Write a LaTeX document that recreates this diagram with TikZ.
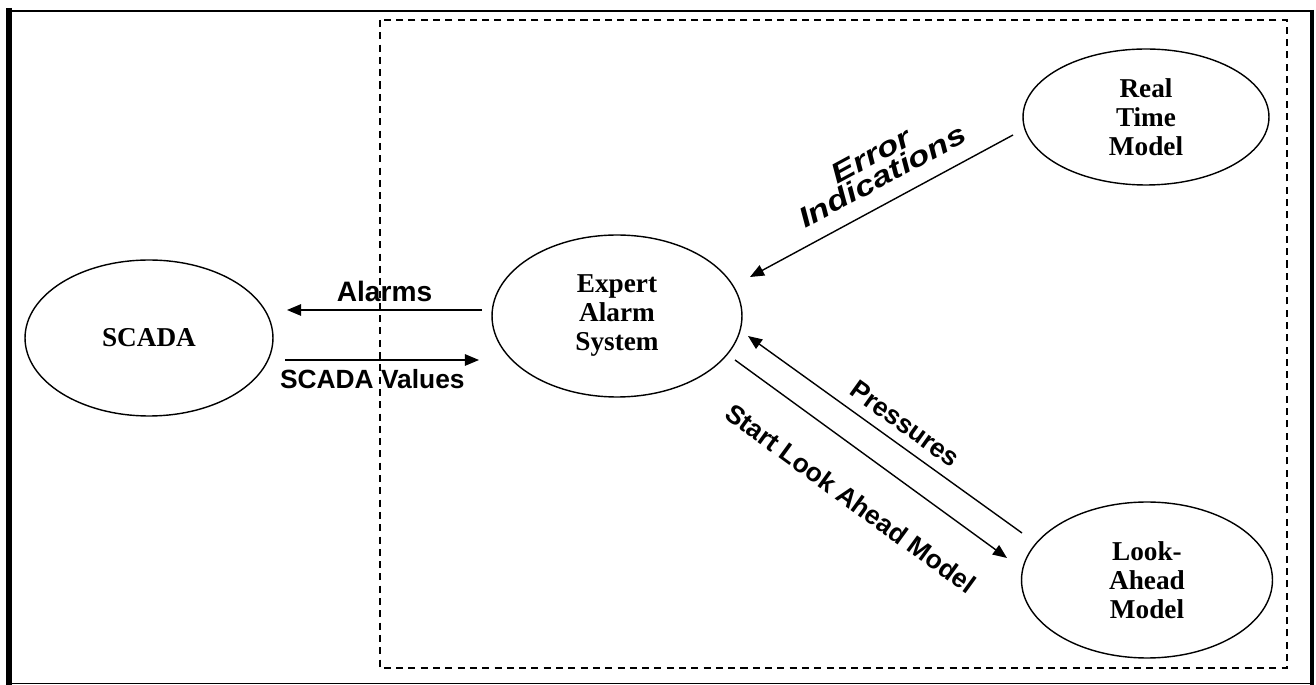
\documentclass[tikz,border=0pt]{standalone}
\usepackage{fontspec}
\usepackage{graphicx}
\setmainfont{Liberation Serif}
\setsansfont{Liberation Sans}
\usetikzlibrary{arrows.meta, calc, shapes.geometric}

\begin{document}
\begin{tikzpicture}[x=0.02cm, y=-0.02cm,
  proc/.style={draw, ellipse, line width=0.8pt, inner sep=0pt, align=center,
    font=\fontsize{15.5}{16.5}\selectfont\bfseries},
  flow/.style={line width=0.8pt, -{Triangle[length=8pt, width=6.5pt]}},
  flowlabel/.style={font=\fontsize{15}{16}\selectfont\sffamily\bfseries,
    align=center}]

  \useasboundingbox (0,0) rectangle (1316,685);

  % frame round the whole figure
  \draw[line width=3.4pt] (9,8) -- (9,685);
  \draw[line width=1.2pt] (6,11) -- (1314,11);
  \draw[line width=2.4pt] (1312,10) -- (1312,685);
  \draw[line width=0.6pt] (6,683.5) -- (1314,683.5);

  % boundary of the alarm system
  \draw[line width=0.8pt, dash pattern=on 4pt off 3pt] (380,20) rectangle (1287,668);

  \node[proc, minimum width=4.96cm, minimum height=3.12cm]
  (scada) at (149,338) {SCADA};

  \node[proc, minimum width=5cm, minimum height=3.24cm]
  (expert) at (617,316) {Expert\\Alarm\\System};

  \node[proc, minimum width=4.92cm, minimum height=2.72cm]
  (real) at (1146,117) {Real\\Time\\Model};

  \node[proc, minimum width=5.02cm, minimum height=3.12cm]
  (look) at (1147,580) {Look-\\Ahead\\Model};

  \draw[flow] ($(expert)+(-135,-6)$) -- node[flowlabel, above, inner sep=4pt,
  font=\fontsize{16}{16}\selectfont\sffamily\bfseries] {Alarms}
  ($(scada)+(138,-28)$);

  \draw[flow] ($(scada)+(136,22)$) -- node[flowlabel, below, pos=0.45,
  inner sep=5pt] {SCADA Values} ($(expert)+(-138,44)$);

  \draw[flow] ($(real)+(-133,18)$) -- node[flowlabel, above, sloped, pos=0.45,
  inner sep=4pt, font=\fontsize{16}{16}\selectfont\sffamily\bfseries\itshape]
  {\scalebox{1.25}[1]{\begin{tabular}{@{}c@{}}Error\\[-3pt]Indications\end{tabular}}}
  ($(expert)+(133,-39)$);

  \draw[flow] ($(look)+(-125,-47)$) -- node[flowlabel, above, sloped,
  pos=0.47, inner sep=6pt] {Pressures} ($(expert)+(131,20)$);

  \draw[flow] ($(expert)+(118,44)$) -- node[flowlabel, below, sloped, pos=0.52,
  inner sep=19pt] {Start Look Ahead Model} ($(look)+(-140,-22)$);
\end{tikzpicture}
\end{document}
